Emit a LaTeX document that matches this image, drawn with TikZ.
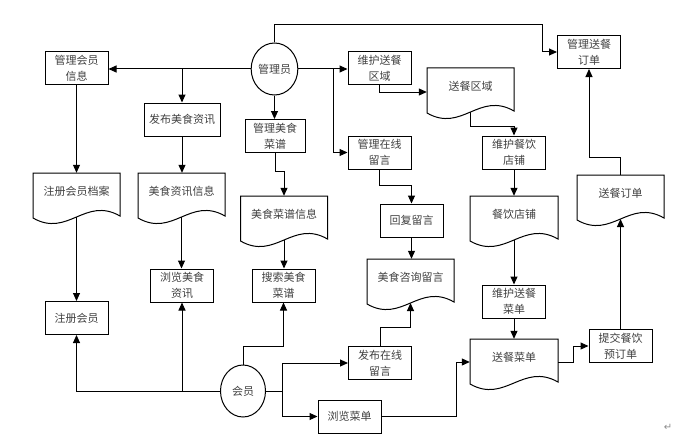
\documentclass[tikz,border=0pt]{standalone}
\usepackage{fontspec}
\setmainfont{Noto Sans CJK SC}
\newfontfamily\symfont{DejaVu Sans}
\usetikzlibrary{arrows.meta,shapes.geometric}
\newcommand{\docnode}[5]{%
  \node[docs, minimum width=#4pt] (#1) at (#2,#3) {#5};
  \draw[shapeline] ({#2-#4/2},{#3-18}) -- ({#2+#4/2},{#3-18}) -- ({#2+#4/2},{#3+25})
    .. controls ({#2+0.1*#4},{#3+5}) and ({#2-0.1*#4},{#3+47}) .. ({#2-#4/2},{#3+27}) -- cycle;
  \coordinate (#1-b) at (#2,{#3+26});
}
\begin{document}
\begin{tikzpicture}[x=1pt,y=-1pt,
  font=\fontsize{11}{16}\selectfont,
  proc/.style={draw, line width=1pt, minimum width=63pt, minimum height=33pt, inner sep=1pt, align=center, text=black!75},
  docs/.style={minimum height=36pt, inner sep=1pt, align=center, text=black!75},
  shapeline/.style={draw, line width=1pt},
  actor/.style={draw, ellipse, line width=1pt, minimum width=45pt, minimum height=52pt, inner sep=0pt, text=black!75},
  arr/.style={line width=1pt, -{Triangle[length=8pt,width=7pt]}}]
\useasboundingbox (0,0) rectangle (693,444);
% actors
\node[actor] (gly) at (274.5,69) {管理员};
\node[actor] (hy) at (243,391) {会员};
% processes
\node[proc] (glhy) at (76.5,68) {管理会员\\信息};
\node[proc, minimum width=76pt] (fbzx) at (182,119.5) {发布美食资讯};
\node[proc, minimum width=60pt] (glcp) at (275,136) {管理美食\\菜谱};
\node[proc] (whqy) at (379.5,68) {维护送餐\\区域};
\node[proc] (glly) at (379.5,152.5) {管理在线\\留言};
\node[proc] (glsc) at (589,52) {管理送餐\\订单};
\node[proc] (whdp) at (514,152.5) {维护餐饮\\店铺};
\node[proc] (hfly) at (411.5,220.5) {回复留言};
\node[proc] (zchy) at (76.5,318) {注册会员};
\node[proc] (llzx) at (182,285.5) {浏览美食\\资讯};
\node[proc] (sscp) at (283.5,285.5) {搜索美食\\菜谱};
\node[proc] (whcd) at (514,301.5) {维护送餐\\菜单};
\node[proc] (tjdd) at (620.5,346) {提交餐饮\\预订单};
\node[proc] (fbly) at (380,363) {发布在线\\留言};
\node[proc] (llcd) at (349.5,416.5) {浏览菜单};
% documents
\docnode{zcda}{76.5}{191}{87}{注册会员档案}
\docnode{zxxx}{181.5}{191}{87}{美食资讯信息}
\docnode{cpxx}{284}{214}{87}{美食菜谱信息}
\docnode{sqy}{470.5}{86}{87}{送餐区域}
\docnode{ysdp}{514}{214}{88}{餐饮店铺}
\docnode{zxly}{410.5}{277}{87}{美食咨询留言}
\docnode{sccd}{514}{357}{88}{送餐菜单}
\docnode{scdd}{620.5}{193}{87}{送餐订单}
% connectors
\coordinate (topc) at (542,25);
\draw[arr] (gly.north) |- (topc) |- (glsc.west);
\draw[arr] (gly.west) -- (gly.west -| glhy.east);
\draw[arr] (gly.west -| fbzx.north) -- (fbzx.north);
\draw[arr] (gly.south) -- (gly.south |- glcp.north);
\draw[arr] (gly.east) -- (gly.east -| whqy.west);
\coordinate (rb) at (333,69);
\draw[arr] (gly.east -| rb) |- (glly.west);
\draw[arr] (whqy.south) |- ([yshift=-6pt]sqy.west);
\draw[arr] (sqy-b) -- ++(0,14) -| (whdp.north);
\draw[arr] (whdp.south) -- (ysdp.north);
\draw[arr] (ysdp-b) -- (whcd.north);
\draw[arr] (whcd.south) -- (sccd.north);
\draw[arr] ([yshift=-5pt]sccd.east) -- ++(15,0) |- (tjdd.west);
\draw[arr] (tjdd.north) -- (scdd-b);
\draw[arr] (scdd.north) -- ++(0,-17) -| (glsc.south);
\draw[arr] (glhy.south) -- (zcda.north);
\draw[arr] (zcda-b) -- (zchy.north);
\draw[arr] (fbzx.south) -- (fbzx.south |- zxxx.north);
\draw[arr] (zxxx-b) -- (zxxx-b |- llzx.north);
\draw[arr] (glcp.south) -- ++(0,18) -| (cpxx.north);
\draw[arr] (cpxx-b) -- (cpxx-b |- sscp.north);
\draw[arr] (glly.south) -- ++(0,16) -| (hfly.north);
\draw[arr] (hfly.south) -- (hfly.south |- zxly.north);
\draw[arr] (fbly.north) -- ++(0,-19) -| (zxly-b);
\draw[arr] (hy.west) -| (zchy.south);
\draw[arr] (hy.west -| llzx.south) -- (llzx.south);
\draw[arr] (hy.north) -- ++(0,-18) -| (sscp.south);
\coordinate (hb) at (282,391);
\draw[arr] (hy.east) -- (hb) |- (fbly.west);
\draw[arr] (hb) |- (llcd.west);
\draw[arr] (llcd.east) -- ++(75,0) |- ([yshift=-5pt]sccd.west);
\node[text=black!45, font=\symfont\fontsize{10}{10}\selectfont] (ret) at (668,427) {↵};
\end{tikzpicture}
\end{document}
